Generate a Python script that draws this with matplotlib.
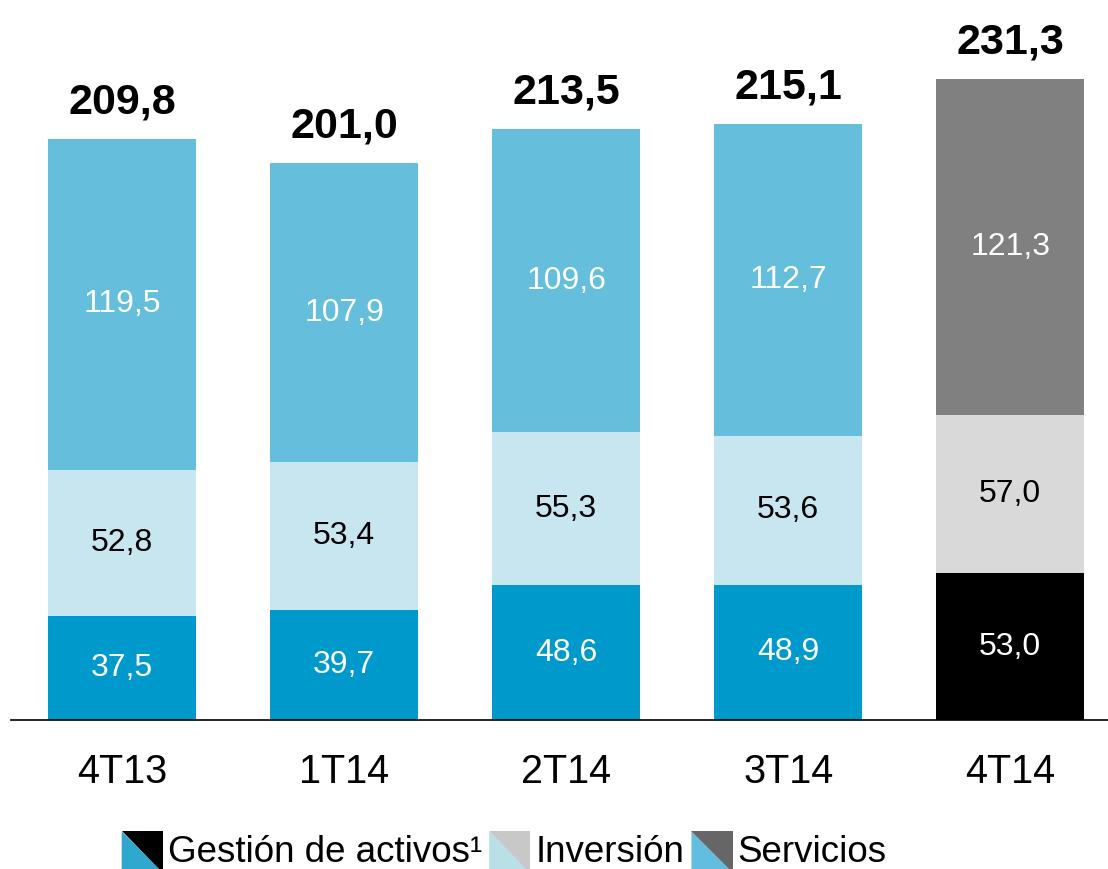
import numpy as np
import matplotlib
matplotlib.use("Agg")
import matplotlib.pyplot as plt
from matplotlib.patches import Polygon
from matplotlib.legend_handler import HandlerBase

plt.rcParams['font.family'] = ['Liberation Sans', 'DejaVu Sans']

# data
periods = ["4T13", "1T14", "2T14", "3T14", "4T14"]
gestion = [37.5, 39.7, 48.6, 48.9, 53.0]
inversion = [52.8, 53.4, 55.3, 53.6, 57.0]
servicios = [119.5, 107.9, 109.6, 112.7, 121.3]
totals = ["209,8", "201,0", "213,5", "215,1", "231,3"]
legend_labels = ["Gestión de activos¹", "Inversión", "Servicios"]

# colours (last bar is grey-scale)
c_gest = ["#0099cc"] * 4 + ["#000000"]
c_inv = ["#c8e6f0"] * 4 + ["#d9d9d9"]
c_serv = ["#64bedc"] * 4 + ["#808080"]
t_gest = ["white"] * 5
t_inv = ["black"] * 5
t_serv = ["white"] * 5


def fmt(v):
    return ("%.1f" % v).replace(".", ",")


class DiagHandler(HandlerBase):
    def __init__(self, upper, lower):
        super().__init__()
        self.upper = upper
        self.lower = lower

    def create_artists(self, legend, orig_handle, xdescent, ydescent,
                       width, height, fontsize, trans):
        x0, y0 = -xdescent, -ydescent - height * 0.2
        h = height * 1.25
        w = h
        low = Polygon([[x0, y0 + h], [x0 + w, y0], [x0, y0]],
                      closed=True, facecolor=self.lower, edgecolor='none',
                      transform=trans)
        up = Polygon([[x0, y0 + h], [x0 + w, y0 + h], [x0 + w, y0]],
                     closed=True, facecolor=self.upper, edgecolor='none',
                     transform=trans)
        return [low, up]


fig = plt.figure(figsize=(11.08, 8.69), dpi=100)
ax = fig.add_axes([11 / 1108, 149 / 869, 1097 / 1108, 720 / 869])

x = np.arange(len(periods))
w = 0.667
bottom2 = np.array(gestion)
bottom3 = bottom2 + np.array(inversion)
tops = bottom3 + np.array(servicios)

ax.bar(x, gestion, w, color=c_gest)
ax.bar(x, inversion, w, bottom=bottom2, color=c_inv)
ax.bar(x, servicios, w, bottom=bottom3, color=c_serv)

for i in range(len(periods)):
    ax.text(x[i], gestion[i] / 2, fmt(gestion[i]), ha='center', va='center',
            fontsize=23, color=t_gest[i])
    ax.text(x[i], bottom2[i] + inversion[i] / 2, fmt(inversion[i]),
            ha='center', va='center', fontsize=23, color=t_inv[i])
    ax.text(x[i], bottom3[i] + servicios[i] / 2, fmt(servicios[i]),
            ha='center', va='center', fontsize=23, color=t_serv[i])
    ax.annotate(totals[i], (x[i], tops[i]), xytext=(0, 12),
                textcoords='offset points', ha='center', va='bottom',
                fontsize=31, fontweight='bold')

ax.set_xlim(-0.5, 4.44)
ax.set_ylim(0, 260)
for s in ['top', 'right', 'left']:
    ax.spines[s].set_visible(False)
ax.spines['bottom'].set_linewidth(1.2)
ax.set_yticks([])
ax.set_xticks(x)
ax.set_xticklabels(periods, fontsize=28.5)
ax.tick_params(axis='x', length=0, pad=24)

h1, h2, h3 = object(), object(), object()
leg = fig.legend([h1, h2, h3], legend_labels, loc='center',
                 bbox_to_anchor=(0.455, 0.02), ncol=3, frameon=False,
                 fontsize=26.5, handlelength=1.0, handleheight=1.0,
                 handletextpad=0.25, columnspacing=0.2,
                 handler_map={h1: DiagHandler("#000000", "#2fa8d0"),
                              h2: DiagHandler("#c8c8c8", "#b8e0e6"),
                              h3: DiagHandler("#666666", "#62bde0")})

fig.savefig("out.png", dpi=100)
